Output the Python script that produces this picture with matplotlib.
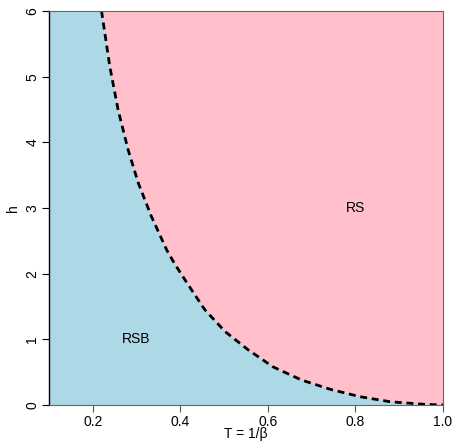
import matplotlib
matplotlib.use("Agg")
import matplotlib.pyplot as plt

# phase boundary
T_line = [0.220, 0.239, 0.258, 0.281, 0.304, 0.334, 0.369, 0.387, 0.418,
          0.456, 0.502, 0.555, 0.612, 0.677, 0.742, 0.810, 0.879, 0.955, 1.0]
h_line = [6.0, 5.15, 4.49, 3.88, 3.38, 2.87, 2.36, 2.15, 1.83,
          1.45, 1.12, 0.84, 0.58, 0.38, 0.24, 0.127, 0.05, 0.011, 0.0]

x_ticks = [0.2, 0.4, 0.6, 0.8, 1.0]
y_ticks = [0, 1, 2, 3, 4, 5, 6]
labels = ["RSB", "RS"]
label_T = [0.3, 0.8]
label_h = [1.0, 3.0]

plt.rcParams['font.family'] = ['Liberation Sans', 'DejaVu Sans']

fig = plt.figure(figsize=(4.55, 4.48), dpi=100)
ax = fig.add_axes([49 / 455, 43 / 448, 394 / 455, 394 / 448])

xmin, xmax, ymin, ymax = 0.1, 1.0, 0, 6
ax.set_xlim(xmin, xmax)
ax.set_ylim(ymin, ymax)

# RS region = pink background, RSB region = blue polygon under the line
ax.set_facecolor('pink')
poly_x = [xmin, xmin] + T_line + [xmax]
poly_y = [ymin, ymax] + h_line + [ymin]
ax.fill(poly_x, poly_y, color='lightblue', lw=0)
ax.plot(T_line, h_line, color='black', lw=2, dashes=(2.5, 1.7))

for lab, t, h in zip(labels, label_T, label_h):
    ax.text(t, h, lab, ha='center', va='center', fontsize=10)

ax.set_xticks(x_ticks)
ax.set_xticklabels([f"{v:.1f}" for v in x_ticks])
ax.set_yticks(y_ticks)
ax.set_yticklabels([str(v) for v in y_ticks], rotation=90, va='center')
ax.tick_params(axis='both', labelsize=10, length=5, width=0.8, direction='out')
ax.tick_params(axis='x', colors='#555555', labelcolor='black', pad=2)
ax.tick_params(axis='y', pad=2)

for s in ['top', 'right', 'bottom']:
    ax.spines[s].set_color('#666666')
    ax.spines[s].set_linewidth(0.8)
ax.spines['left'].set_color('black')
ax.spines['left'].set_linewidth(1)

ax.set_xlabel('T = 1/β', fontsize=10, labelpad=-1.5)
ax.set_ylabel('h', fontsize=10, labelpad=4)

fig.savefig('out.png', dpi=100)
